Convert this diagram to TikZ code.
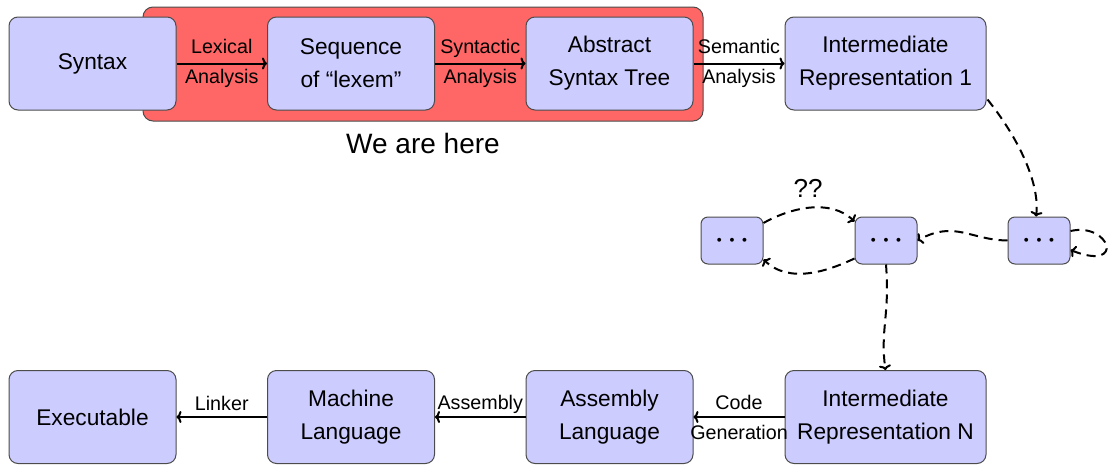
\documentclass[tikz,border=0pt]{standalone}
\usepackage{fontspec}
\setmainfont{Liberation Sans}
\usetikzlibrary{arrows.meta}

\begin{document}
\begin{tikzpicture}[x=1pt,y=-1pt,
  box/.style={draw=black!70, line width=1pt, fill=blue!20, rounded corners=9pt,
    minimum width=167pt, minimum height=93pt, inner sep=0pt, align=center,
    font=\fontsize{22.7}{33}\selectfont},
  wide/.style={box, minimum width=201pt},
  small/.style={box, minimum width=62pt, minimum height=47pt, rounded corners=7pt,
    font=\fontsize{25}{30}\selectfont\boldmath},
  lbl/.style={font=\fontsize{19.7}{30}\selectfont, align=center, inner sep=0pt},
  flow/.style={line width=2pt, -{To[length=5pt,width=12pt]}},
  hop/.style={flow, dash pattern=on 9pt off 6pt},
]
\useasboundingbox (0,0) rectangle (1112,464);

% highlighted front-end stage
\node (here) [draw=black!70, line width=1pt, fill=red!60, rounded corners=10pt,
  minimum width=560pt, minimum height=114pt, inner sep=0pt] at (423,64) {};
\node (tag) [font=\fontsize{28}{34}\selectfont, inner sep=0pt] at (423,143) {We are here};

% top row
\node (syn) [box]  at (92.5,63.5)  {Syntax};
\node (seq) [box]  at (351,63.5)   {Sequence\\of “lexem”};
\node (ast) [box]  at (609.5,63.5) {Abstract\\Syntax Tree};
\node (ir1) [wide] at (885.5,63.5) {Intermediate\\Representation 1};

% middle row of unknown passes
\node (pa) [small] at (732,240.5)  {$\cdots$};
\node (pb) [small] at (886,240.5)  {$\cdots$};
\node (pc) [small] at (1039,240.5) {$\cdots$};
\node (qq) [font=\fontsize{26}{30}\selectfont, inner sep=0pt] at (808,188) {??};

% bottom row
\node (exe) [box]  at (92.5,417)  {Executable};
\node (mac) [box]  at (351,417)   {Machine\\Language};
\node (asm) [box]  at (609.5,417) {Assembly\\Language};
\node (irn) [wide] at (885.5,417) {Intermediate\\Representation N};

% solid compilation steps
\draw[flow] (syn) -- node[lbl] {Lexical\\Analysis} (seq);
\draw[flow] (seq) -- node[lbl] {Syntactic\\Analysis} (ast);
\draw[flow] (ast) -- node[lbl] {Semantic\\Analysis} (ir1);
\draw[flow] (irn) -- node[lbl] {Code\\Generation} (asm);
\draw[flow] (asm) -- node[lbl, anchor=base, yshift=8pt] {Assembly} (mac);
\draw[flow] (mac) -- node[lbl, anchor=base, yshift=7pt] {Linker} (exe);

% dashed optimisation passes
\draw[hop] ([xshift=1pt,yshift=11pt]ir1.south east)
  .. controls (1020,140) and (1040,185) .. ([xshift=-3pt]pc.north);
\draw[hop] ([yshift=9.5pt]pc.east)
  .. controls (1110,222) and (1126,272) .. ([yshift=-9.5pt]pc.east);
\draw[hop] (pc.west) .. controls (970,240) and (955,220) .. (pb.east);
\draw[hop] ([yshift=17.5pt]pa.east) .. controls (790,208) and (830,198) .. ([yshift=-5pt]pb.north west);
\draw[hop] ([yshift=-18pt]pb.west) .. controls (830,270) and (790,285) .. ([yshift=-19pt]pa.east);
\draw[hop] (pb.south) .. controls (890,315) and (880,330) .. (irn.north);
\end{tikzpicture}
\end{document}
